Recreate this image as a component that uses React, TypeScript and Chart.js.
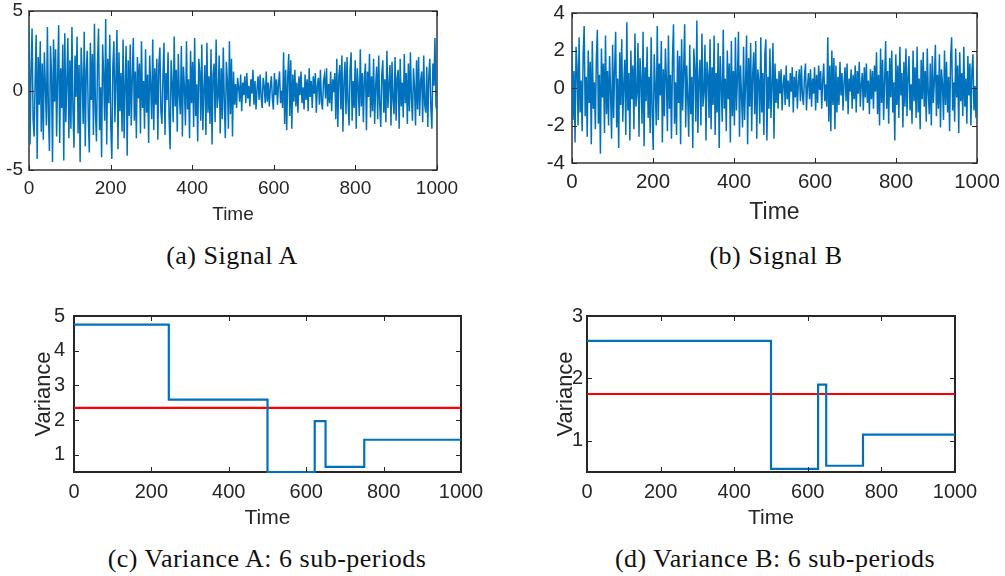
import React, { useEffect, useRef } from "react";
import { Chart, registerables } from "chart.js";

Chart.register(...registerables);

// ---------------- data ----------------
const TIME_MIN = 0;
const TIME_MAX = 1000;

// Signal A, 400 samples spread over 0..1000
const SIGNAL_A = [
  4.1, -3.4, 1.2, 3.9, -1.8, -2.9, 0.6, 3.5, -4.3, 2.1, -0.9, 3.1, -2.6, 1.7, -3.1, 2.4, 0.3, -2.2, 4.0, -1.5,
  -3.8, 2.8, 1.1, -4.5, 3.2, -0.7, 2.6, -2.9, 0.9, 4.1, -3.3, 1.4, -1.1, 2.9, -4.4, 3.6, -2.0, 0.5, 3.3, -3.0,
  1.9, -2.4, 4.0, -1.2, -3.6, 2.2, -0.4, 3.4, -2.7, 1.6, -4.5, 2.7, 0.8, -2.1, 3.7, -3.5, 1.3, 2.5, -1.7, -3.9,
  3.0, -0.6, 2.3, -2.8, 4.2, -1.4, -3.2, 1.8, 3.9, -2.5, 0.2, -4.2, 2.9, 1.0, -1.9, 4.5, -3.4, 2.0, -0.8, 3.5,
  -2.3, -4.3, 1.5, 3.1, -2.0, 0.7, 3.8, -3.7, 2.4, -1.3, 1.1, -2.6, 3.2, -3.0, 0.4, 2.8, -4.1, 1.9,
  -1.6, 2.9, -2.2, 0.8, 3.3, -1.9, 1.2, -3.0, 2.1, -0.5, 1.7, -2.7, 3.1, -1.1, 0.6, -2.4, 2.6, -1.4, 1.0, -3.3,
  2.2, 0.3, -1.8, 3.2, -2.5, 1.4, -0.9, 2.0, -3.1, 1.6, 2.7, -1.3, -2.1, 0.9, 3.0, -2.8, 1.1, -0.6, 2.4, -1.7,
  -3.7, 1.9, 0.5, -2.0, 3.4, -1.0, 1.3, -2.6, 2.3, -0.3, -1.5, 2.8, -2.9, 1.5, 0.2, -2.2, 3.1, -1.2, 0.7, -3.0,
  2.5, -0.8, 1.8, -2.3, 3.3, -1.6, 0.4, -3.2, 2.0, 1.2, -1.9, 2.9, -2.5, 0.1, 1.6, -2.8, 3.0, -1.4, 0.9, -2.1,
  2.6, -3.4, 1.0, 1.7, -2.0, 3.2, -1.1, -0.4, 2.2, -2.7, 1.4, -1.8, 2.7, -0.7, -3.0, 1.8, 0.6, -2.4, 3.1, -1.5,
  2.0, -2.9,
  1.2, -0.9, 0.4, -1.1, 0.8, 0.2, -0.7, 1.0, -1.3, 0.5, -0.3, 0.9, -0.8, 1.1, -0.5, 0.3, -1.0, 0.7, -0.2, 1.3,
  -0.9, 0.6, -1.2, 0.1, 0.9, -0.6, 1.0, -0.4, -1.1, 0.8, 0.3, -0.8, 1.2, -0.7, 0.5, -1.0, 0.2, 0.9, -0.5, -1.2,
  1.1, -0.3, 0.7, -0.9, 0.4, 1.2, -0.8, 0.0, -1.1,
  2.4, -2.1, 1.3, -2.5, 0.8, 2.3, -1.6, 1.9, -2.4, 1.0, -0.7,
  1.3, -1.0, 0.5, -1.4, 0.9, -0.3, 1.2, -0.8, 0.2, -1.2, 1.0, -0.6, 0.7, -1.3, 1.4, -0.4, 0.6, -1.1, 0.9, -0.2,
  1.1, -1.4, 0.3, 0.8, -0.9, 1.3, -0.7, -1.2, 0.6, 1.0, -0.5, 1.4, -1.0, 0.4, -0.8, 1.2, -1.3, 0.7, -0.1, 1.1,
  -1.8, 2.0, -2.3, 0.9, 1.6, -1.2, 2.2, -2.6, 0.5, 1.8, -1.5, 2.1, -0.7, -2.2, 1.3, 2.4, -1.9, 0.6, -1.1, 1.9,
  -2.4, 1.4, 0.2, -1.6, 2.6, -1.0, 1.1, -2.0, 0.8, 1.7, -2.5, 1.2, -0.4, 2.3, -1.7, 0.9, -1.3, 2.0, -2.1, 0.3,
  1.5, -1.8, 2.2, -0.9, -2.3, 1.0, 1.9, -1.4, 0.7, -2.0, 2.5, -1.1, 0.4, 1.6, -2.2, 1.8, -0.6, -1.5, 2.1, -1.9,
  0.8, 1.3, -2.4, 2.0, -1.0, 0.5, -1.7, 2.3, -0.8, 1.1, -2.1, 1.7, -1.3, 2.4, -0.5, -1.9, 1.4, 0.2, -2.2, 1.9,
  -1.2, 2.1, -1.6, 0.6, 1.2, -2.0, 2.2, -0.9, -1.4, 1.5, -2.3, 0.9, 2.0, -1.1, -2.4, 1.7, 0.3, 3.3, -1.0, -1.3,
];

// Signal B, 400 samples spread over 0..1000
const SIGNAL_B = [
  2.4, -1.7, 0.9, -2.9, 2.2, 1.1, -2.0, 2.7, -1.3, 0.4, -2.3, 1.8, 3.3, -1.5, 0.6, -2.6, 2.0, -0.8, 1.4, -3.0,
  2.5, -1.1, 0.3, -2.2, 1.6, 3.1, -1.9, 0.7, -3.5, 2.1, -0.5, 1.3, -2.4, 2.8, -1.4, 0.9, -2.0, 1.7, -0.2, -2.7,
  2.3, -1.6, 1.0, 3.0, -2.1, 0.5, -3.2, 1.9, -0.9, 2.6, -1.8, 0.2, 1.5, -2.5, 3.5, -1.2, 0.8, -2.8, 2.0, -0.6,
  1.2, -2.2, 2.9, -1.0, -0.3, 2.4, -2.6, 1.6, 0.4, -1.9, 3.0, -3.1, 1.1, -0.7, 2.2, -1.6, 0.6, -2.4, 2.7, -1.3,
  -3.3, 1.8, 0.1, -2.0, 3.3, -1.7, 1.3, -0.4, 2.5, -2.9, 1.0, -1.5, 2.1, 0.5, -2.3, 2.8, -1.1, 0.7, -2.7, 1.6,
  3.4, -1.9, 0.3, -2.5, 2.0, -0.8, 1.7, -3.0, 2.6, -1.2, 0.9, 3.4, -2.1, 1.2, -0.5, -2.6, 2.3, -1.4, 0.6, -3.2,
  2.1, 1.0, -1.8, 3.6, -2.4, 0.4, 1.5, -2.0, 2.9, -1.0, -0.2, 2.3, -2.8, 1.4, 0.7, -1.6, 2.6, -2.2, 1.1, -0.9,
  2.8, -2.5, 0.8, -1.3, 2.4, -3.2, 1.7, 0.2, -1.8, 3.1, -1.1, 0.5, -2.3, 2.0, -0.6, 1.3, -2.9, 2.5, -1.5, 0.9,
  -2.0, 2.7, -1.2, 0.6, 3.0, -2.6, 1.2, -0.4, -2.1, 2.2, -1.7, 0.3, 2.8, -3.0, 1.6, -1.0, 2.4, -2.3, 0.7, 1.9,
  -1.4, 2.5, -2.7, 1.0, 0.4, -1.9, 2.7, -1.3, 0.8, -2.5, 1.8, 2.6, -2.8, 0.6, -1.1, 2.1, -1.6, 0.2, 2.4, -2.7,
  1.3, -0.8, 0.5, -1.1, 0.9, -0.3, 1.0, -1.2, 0.2, 0.7, -0.9, 1.2, -0.6, 0.4, -1.0, 0.8, -0.2, 1.1, -1.3, 0.6,
  -0.5, 0.9, -1.1, 0.3, 1.0, -0.7, 1.2, -0.4, -0.9, 0.6, 1.3, -1.2, 0.1, 0.8, -0.6, 1.0, -1.0, 0.5, -0.3, 1.1,
  -1.2, 0.7, -0.8, 1.2, -0.1, 0.9, -1.1, 0.4, 1.3, -0.7, 0.2, -1.0,
  2.7, -1.8, 1.2, -2.3, 2.0, -0.9, 1.6, -2.2,
  1.2, -1.3, 0.6, -0.9, 1.4, -0.4, 0.8, -1.2, 0.3, 1.1, -0.7, 1.3, -1.4, 0.5, -0.2, 1.0, -1.1, 0.7, -0.6, 1.2,
  -1.3, 0.9, -0.3, 1.4, -1.0, 0.2, 0.8, -1.2, 1.1, -0.5, 1.3, -0.8, 0.4, -1.4, 1.0, -0.6, 0.9, -1.1, 1.2, -0.2,
  1.9, -1.4, 0.7, -2.0, 2.1, -0.8, 1.5, -1.7, 0.4, 2.5, -1.1, 0.9, -1.9, 1.6, -0.5, 2.0, -1.3, 0.3, -2.8, 1.8,
  -0.9, 1.2, -1.6, 2.2, -0.4, 0.8, -2.1, 1.4, -1.0, 2.1, -1.5, 0.6, 1.7, -1.2, 0.2, -1.9, 2.0, -0.7, 1.1, -1.6,
  2.2, -1.3, 0.5, -2.2, 1.5, -0.6, 1.9, -1.0, 0.9, -1.8, 2.1, -0.3, -1.4, 1.3, -2.0, 1.7, -0.8, 0.4, 2.3, -1.5,
  0.7, -1.1, 1.8, -2.1, 1.0, 0.2, -1.7, 2.0, -0.9, 1.4, -1.3, 0.6, -2.3, 1.6, 2.7, -1.2, 0.3, -1.8, 2.1, -0.5,
  1.2, -2.4, 1.9, -0.7, 0.8, -1.5, 2.2, -1.0, 0.5, -1.9, 1.7, -0.4, 1.3, -2.0, 0.9, 1.8, -1.2, 0.1, -1.6, 1.0,
];

// Variance of A over 6 sub-periods
const VAR_A_BREAKS = [0, 245, 500, 622, 650, 750, 1000];
const VAR_A_VALUES = [4.75, 2.59, 0.5, 1.97, 0.65, 1.43];
const VAR_A_MEAN = 2.35;

// Variance of B over 6 sub-periods
const VAR_B_BREAKS = [0, 500, 628, 650, 750, 1000];
const VAR_B_VALUES = [2.6, 0.55, 1.9, 0.6, 1.1];
const VAR_B_MEAN = 1.75;

// tick labels
const X_TICKS = [0, 200, 400, 600, 800, 1000];
const Y_TICKS_A = [-5, 0, 5];
const Y_TICKS_B = [-4, -2, 0, 2, 4];
const Y_TICKS_C = [1, 2, 3, 4, 5];
const Y_TICKS_D = [1, 2, 3];

const X_TITLE = "Time";
const Y_TITLE = "Variance";
const CAPTIONS = [
  "(a) Signal A",
  "(b) Signal B",
  "(c) Variance A: 6 sub-periods",
  "(d) Variance B: 6 sub-periods",
];

// ---------------- style ----------------
const AXIS_COLOR = "#262626";
const BLUE = "#0072BD";
const RED = "#FF0000";
const SANS = '"Liberation Sans", Arial, Helvetica, sans-serif';
const SERIF = '"Liberation Serif", "Times New Roman", serif';

function signalPoints(values: number[]) {
  const step = (TIME_MAX - TIME_MIN) / (values.length - 1);
  return values.map((v, i) => ({ x: TIME_MIN + i * step, y: v }));
}

function stepPoints(breaks: number[], values: number[]) {
  const pts: { x: number; y: number }[] = [];
  values.forEach((v, i) => {
    pts.push({ x: breaks[i], y: v });
    pts.push({ x: breaks[i + 1], y: v });
  });
  return pts;
}

// MATLAB-like box: frame drawn under the data, inward tick marks on all four sides drawn over it
const boxPlugin = {
  id: "matlabBox",
  beforeDatasetsDraw(chart: any, _args: any, opts: any) {
    const { ctx, chartArea: a } = chart;
    ctx.save();
    ctx.strokeStyle = AXIS_COLOR;
    ctx.lineWidth = opts.lineWidth ?? 1.5;
    ctx.strokeRect(a.left, a.top, a.right - a.left, a.bottom - a.top);
    ctx.restore();
  },
  afterDatasetsDraw(chart: any, _args: any, opts: any) {
    const { ctx, chartArea: a, scales } = chart;
    const tl = opts.tickLength ?? 5;
    ctx.save();
    ctx.strokeStyle = AXIS_COLOR;
    ctx.lineWidth = 1;
    ctx.beginPath();
    for (const t of scales.x.ticks) {
      const px = Math.round(scales.x.getPixelForValue(t.value)) + 0.5;
      ctx.moveTo(px, a.bottom);
      ctx.lineTo(px, a.bottom - tl);
      ctx.moveTo(px, a.top);
      ctx.lineTo(px, a.top + tl);
    }
    for (const t of scales.y.ticks) {
      const py = Math.round(scales.y.getPixelForValue(t.value)) + 0.5;
      ctx.moveTo(a.left, py);
      ctx.lineTo(a.left + tl, py);
      ctx.moveTo(a.right, py);
      ctx.lineTo(a.right - tl, py);
    }
    ctx.stroke();
    ctx.restore();
  },
};

type Spec = {
  left: number;
  top: number;
  width: number;
  height: number;
  padTop: number;
  padRight: number;
  yWidth: number;
  xHeight: number;
  tickSize: number;
  xTickPad: number;
  xTitleSize: number;
  xTitlePad: number;
  yTickPad: number;
  yTitle?: boolean;
  yTitleSize?: number;
  yTitlePad?: number;
  yMin: number;
  yMax: number;
  yTicks: number[];
  boxWidth: number;
  datasets: any[];
};

function buildConfig(p: Spec): any {
  const tickFont = { family: SANS, size: p.tickSize, lineHeight: 1 };
  return {
    type: "line",
    data: { datasets: p.datasets },
    plugins: [boxPlugin],
    options: {
      responsive: false,
      animation: false,
      events: [],
      layout: { padding: { top: p.padTop, right: p.padRight, bottom: 0, left: 0 } },
      elements: { point: { radius: 0 }, line: { tension: 0 } },
      plugins: {
        legend: { display: false },
        tooltip: { enabled: false },
        matlabBox: { lineWidth: p.boxWidth, tickLength: 5 },
      },
      scales: {
        x: {
          type: "linear",
          min: TIME_MIN,
          max: TIME_MAX,
          grid: { display: false, drawTicks: false },
          border: { display: false },
          afterBuildTicks: (s: any) => {
            s.ticks = X_TICKS.map((v) => ({ value: v }));
          },
          afterFit: (s: any) => {
            s.height = p.xHeight;
            s.paddingLeft = 0;
            s.paddingRight = 0;
          },
          ticks: {
            color: AXIS_COLOR,
            font: tickFont,
            padding: p.xTickPad,
            maxRotation: 0,
            minRotation: 0,
            autoSkip: false,
            callback: (v: any) => String(v),
          },
          title: {
            display: true,
            text: X_TITLE,
            color: AXIS_COLOR,
            font: { family: SANS, size: p.xTitleSize, lineHeight: 1 },
            padding: { top: 0, bottom: p.xTitlePad },
          },
        },
        y: {
          type: "linear",
          min: p.yMin,
          max: p.yMax,
          grid: { display: false, drawTicks: false },
          border: { display: false },
          afterBuildTicks: (s: any) => {
            s.ticks = p.yTicks.map((v) => ({ value: v }));
          },
          afterFit: (s: any) => {
            s.width = p.yWidth;
            s.paddingTop = 0;
            s.paddingBottom = 0;
          },
          ticks: {
            color: AXIS_COLOR,
            font: tickFont,
            padding: p.yTickPad,
            autoSkip: false,
            callback: (v: any) => String(v),
          },
          title: {
            display: !!p.yTitle,
            text: Y_TITLE,
            color: AXIS_COLOR,
            font: { family: SANS, size: p.yTitleSize ?? 21, lineHeight: 1 },
            padding: { top: p.yTitlePad ?? 0, bottom: 0 },
          },
        },
      },
    },
  };
}

function Panel({ spec }: { spec: Spec }) {
  const ref = useRef<HTMLCanvasElement>(null);
  useEffect(() => {
    const chart = new Chart(ref.current as HTMLCanvasElement, buildConfig(spec));
    return () => chart.destroy();
  }, []);
  return (
    <div
      style={{
        position: "absolute",
        left: spec.left,
        top: spec.top,
        width: spec.width,
        height: spec.height,
      }}
    >
      <canvas
        ref={ref}
        width={spec.width}
        height={spec.height}
        style={{ width: spec.width, height: spec.height, display: "block" }}
      />
    </div>
  );
}

function Caption({ text, cx, cy }: { text: string; cx: number; cy: number }) {
  return (
    <div
      style={{
        position: "absolute",
        left: cx - 250,
        top: cy - 15,
        width: 500,
        height: 30,
        lineHeight: "30px",
        textAlign: "center",
        fontFamily: SERIF,
        fontSize: 26,
        letterSpacing: "0.5px",
        color: "#111",
        whiteSpace: "nowrap",
      }}
    >
      {text}
    </div>
  );
}

const signalLine = (values: number[]) => ({
  data: signalPoints(values),
  borderColor: BLUE,
  borderWidth: 1.5,
  pointRadius: 0,
  fill: false,
  borderJoinStyle: "miter",
});

const stepLine = (breaks: number[], values: number[]) => ({
  data: stepPoints(breaks, values),
  borderColor: BLUE,
  borderWidth: 2.2,
  pointRadius: 0,
  fill: false,
  borderJoinStyle: "miter",
  clip: { left: 0, top: 0, right: 0, bottom: 3 },
});

const meanLine = (mean: number) => ({
  data: [
    { x: TIME_MIN, y: mean },
    { x: TIME_MAX, y: mean },
  ],
  borderColor: RED,
  borderWidth: 2.2,
  pointRadius: 0,
  fill: false,
});

const SPEC_A: Spec = {
  left: 0, top: 0, width: 460, height: 230,
  padTop: 11, padRight: 23, yWidth: 29, xHeight: 60,
  tickSize: 19, xTickPad: 9, xTitleSize: 19, xTitlePad: 6, yTickPad: 6,
  yMin: -5, yMax: 5, yTicks: Y_TICKS_A, boxWidth: 1.4,
  datasets: [signalLine(SIGNAL_A)],
};

const SPEC_B: Spec = {
  left: 530, top: 0, width: 475, height: 230,
  padTop: 13, padRight: 28, yWidth: 42, xHeight: 67,
  tickSize: 20.5, xTickPad: 9.5, xTitleSize: 23, xTitlePad: 6, yTickPad: 7,
  yMin: -4, yMax: 4, yTicks: Y_TICKS_B, boxWidth: 1.4,
  datasets: [signalLine(SIGNAL_B)],
};

const SPEC_C: Spec = {
  left: 20, top: 290, width: 500, height: 250,
  padTop: 26, padRight: 59, yWidth: 54, xHeight: 68,
  tickSize: 20, xTickPad: 10, xTitleSize: 21, xTitlePad: 11, yTickPad: 9,
  yTitle: true, yTitleSize: 22, yTitlePad: 13,
  yMin: 0.5, yMax: 5, yTicks: Y_TICKS_C, boxWidth: 2,
  datasets: [stepLine(VAR_A_BREAKS, VAR_A_VALUES), meanLine(VAR_A_MEAN)],
};

const SPEC_D: Spec = {
  left: 530, top: 290, width: 475, height: 250,
  padTop: 26, padRight: 50, yWidth: 57, xHeight: 68,
  tickSize: 20, xTickPad: 10, xTitleSize: 21, xTitlePad: 11, yTickPad: 4,
  yTitle: true, yTitleSize: 22, yTitlePad: 24.5,
  yMin: 0.5, yMax: 3, yTicks: Y_TICKS_D, boxWidth: 2,
  datasets: [stepLine(VAR_B_BREAKS, VAR_B_VALUES), meanLine(VAR_B_MEAN)],
};

export default function App() {
  return (
    <div
      style={{
        position: "absolute",
        left: 0,
        top: 0,
        width: 1005,
        height: 576,
        background: "#fff",
        overflow: "hidden",
      }}
    >
      <Panel spec={SPEC_A} />
      <Panel spec={SPEC_B} />
      <Panel spec={SPEC_C} />
      <Panel spec={SPEC_D} />
      <Caption text={CAPTIONS[0]} cx={232} cy={256} />
      <Caption text={CAPTIONS[1]} cx={776} cy={256} />
      <Caption text={CAPTIONS[2]} cx={267} cy={559} />
      <Caption text={CAPTIONS[3]} cx={775} cy={559} />
    </div>
  );
}
